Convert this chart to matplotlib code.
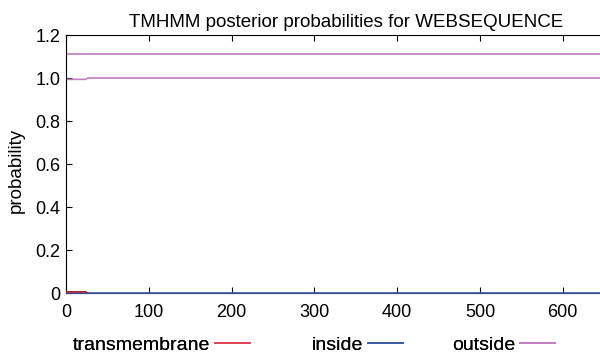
import matplotlib
matplotlib.use("Agg")
import matplotlib.pyplot as plt
from matplotlib.lines import Line2D

plt.rcParams['font.family'] = ['Liberation Sans', 'DejaVu Sans']

seq_len = 645
pos = [1, 24, 25, 26, 645]
transmembrane = [0.006, 0.006, 0.003, 0.0, 0.0]
inside = [0.0, 0.0, 0.0, 0.0, 0.0]
outside = [0.994, 0.994, 0.997, 1.0, 1.0]
topology_level = 1.11
topology_span = [1, 645]

labels = ['transmembrane', 'inside', 'outside']
c_tm = '#b02535'
c_in = '#3c5aa8'
c_out = '#c07ec0'

fig = plt.figure(figsize=(6.0, 3.54), dpi=100)
ax = fig.add_axes([0.11, 0.172, 0.89, 0.729])

ax.plot(pos, outside, color=c_out, lw=1.2)
ax.plot(topology_span, [topology_level] * 2, color=c_out, lw=1.2)
ax.plot(pos, inside, color=c_in, lw=1.2, zorder=3, clip_on=False)
ax.plot(pos[:3], transmembrane[:3], color=c_tm, lw=1.2, zorder=4)

ax.set_xlim(0, seq_len)
ax.set_ylim(0, 1.2)
ax.set_xticks([0, 100, 200, 300, 400, 500, 600])
ax.set_yticks([0, 0.2, 0.4, 0.6, 0.8, 1.0, 1.2])
ax.set_yticklabels(['0', '0.2', '0.4', '0.6', '0.8', '1.0', '1.2'])
ax.tick_params(direction='in', labelsize=13, top=True, length=4, width=0.8)
ax.tick_params(axis='x', pad=8)
ax.tick_params(axis='y', pad=4)
ax.spines['right'].set_visible(False)
ax.set_ylabel('probability', fontsize=13.5)
ax.yaxis.set_label_coords(-0.077, 0.477)
ax.set_title('TMHMM posterior probabilities for WEBSEQUENCE', fontsize=13.5, pad=6, x=0.524)

# legend entries sit at fixed spots along the bottom
leg_x = [73, 312, 452]
leg_colors = ['#e04050', c_in, c_out]
for lab, col, lx in zip(labels, leg_colors, leg_x):
    leg = fig.legend([Line2D([], [], color=col, lw=1.2)], [lab], loc='center left',
                     bbox_to_anchor=(lx / 600, 1 - 345 / 354), frameon=False, fontsize=14,
                     markerfirst=False, handlelength=1.8, handletextpad=0.26,
                     borderpad=0, borderaxespad=0)
    fig.add_artist(leg)

fig.savefig('out.png', dpi=100)
